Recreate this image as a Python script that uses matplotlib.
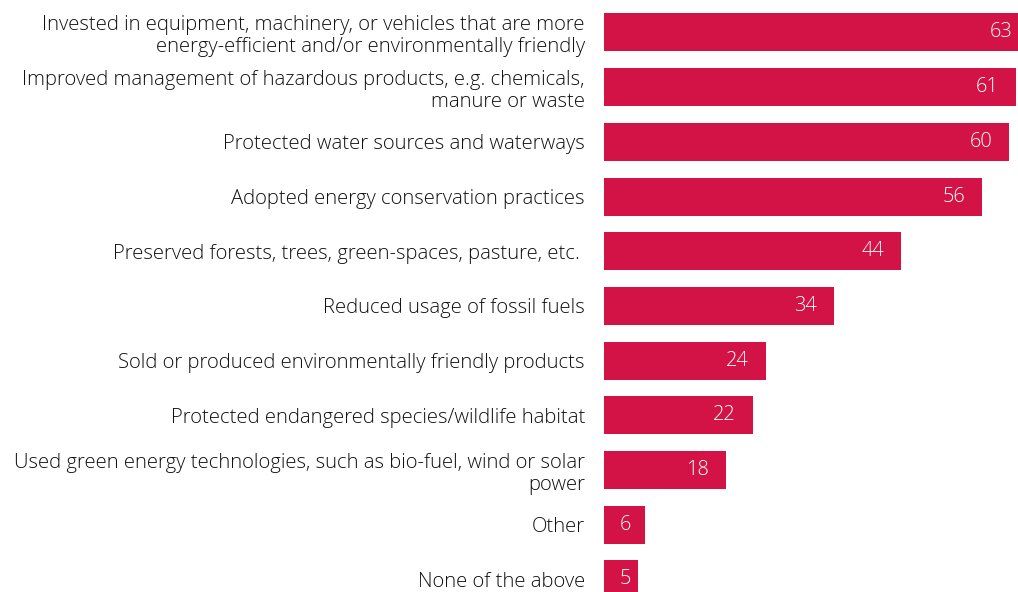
import matplotlib.pyplot as plt

labels = [
    "Invested in equipment, machinery, or vehicles that are more\nenergy-efficient and/or environmentally friendly",
    "Improved management of hazardous products, e.g. chemicals,\nmanure or waste",
    "Protected water sources and waterways",
    "Adopted energy conservation practices",
    "Preserved forests, trees, green-spaces, pasture, etc. ",
    "Reduced usage of fossil fuels",
    "Sold or produced environmentally friendly products",
    "Protected endangered species/wildlife habitat",
    "Used green energy technologies, such as bio-fuel, wind or solar\npower",
    "Other",
    "None of the above",
]
values = [63, 61, 60, 56, 44, 34, 24, 22, 18, 6, 5]

bar_color = "#D31245"
plt.rcParams['font.family'] = ['Open Sans', 'DejaVu Sans']

fig = plt.figure(figsize=(10.18, 5.92), dpi=100)
ax = fig.add_axes([604 / 1018, 0, 414 / 1018, 1])

pos = list(range(len(values)))
ax.barh(pos, values, height=0.695, color=bar_color)

for p, v in zip(pos, values):
    # small bars keep the label a little in from the bar start
    ax.text(max(v - 2.5, 4.0), p, str(v), ha='right', va='center',
            color='white', fontsize=14.4, fontweight='light', clip_on=False)

ax.set_yticks(pos)
ax.set_yticklabels(labels, fontsize=14.6, fontweight='light', color='#111111',
                   linespacing=1.15)
ax.tick_params(axis='y', length=0, pad=13.7)
ax.set_xticks([])
ax.set_xlim(0, 414 / 6.75)
ax.set_ylim(10.23, -0.594)
for s in ax.spines.values():
    s.set_visible(False)

fig.savefig("out.png", dpi=100)
